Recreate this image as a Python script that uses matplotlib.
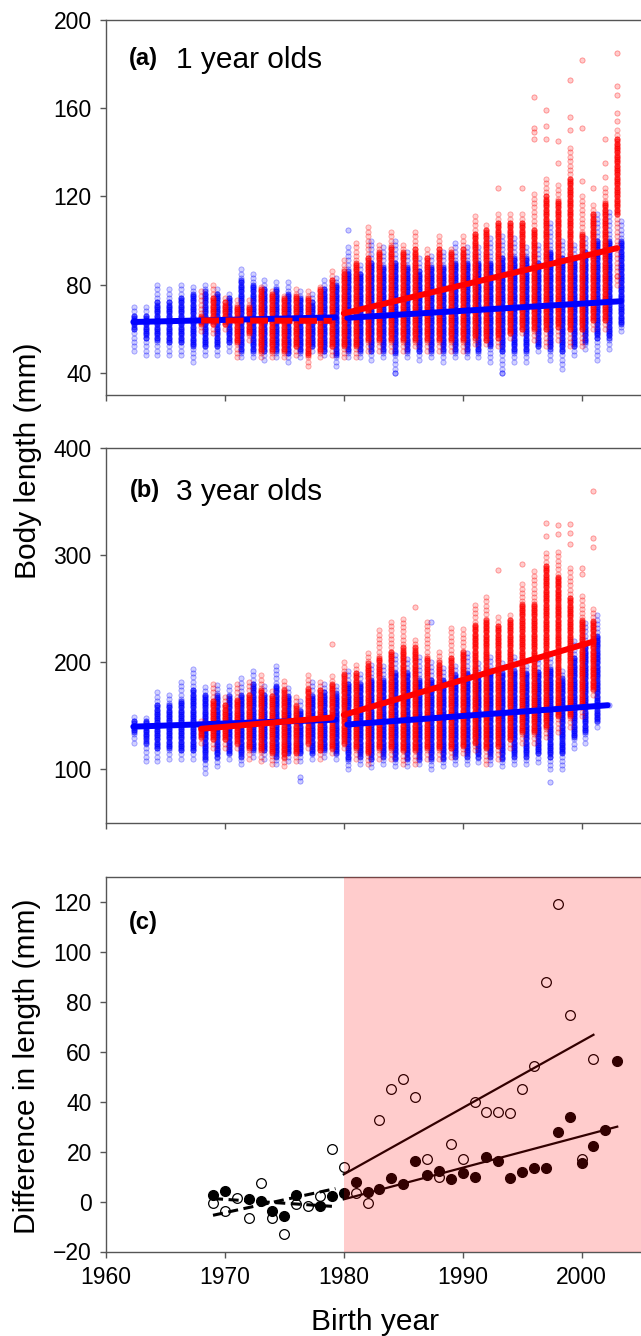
import numpy as np
import matplotlib
matplotlib.use("Agg")
import matplotlib.pyplot as plt

plt.rcParams['font.family'] = ['Liberation Sans', 'DejaVu Sans']

# ---------------- data ----------------
# Panel (a) 1-year-olds: per birth-year column summaries (mm)
a_blue_years = list(range(1962, 2004))
a_blue_lo  = [50,48,48,48,48,45,48,48,50,47,47,46,47,45,47,50,48,43,47,47,46,47,40,47,46,47,45,47,47,47,45,40,45,45,50,46,42,48,51,46,51,59]
a_blue_hi  = [70,71,80,79,80,79,80,79,77,87,85,83,82,81,77,76,83,83,98,90,100,98,100,95,92,94,95,100,98,97,101,102,101,98,98,108,100,99,101,113,113,109]
a_blue_clo = [60,56,55,54,54,52,52,52,54,50,50,50,50,49,50,52,50,48,50,50,50,50,49,50,50,50,50,50,50,50,52,50,50,50,52,51,50,52,54,56,56,62]
a_blue_chi = [66,66,72,72,74,76,77,76,74,82,80,78,78,76,74,72,78,80,86,85,90,88,90,88,86,88,88,90,90,90,90,92,92,92,90,95,92,92,95,100,100,100]
a_blue_out_years = [1980, 1984, 1993]
a_blue_out_vals  = [105, 40, 40]

a_red_years = list(range(1968, 2004))
a_red_lo  = [59,58,60,47,55,47,47,47,48,43,47,48,47,47,50,50,50,50,52,50,50,50,50,53,53,52,56,58,55,52,55,52,52,60,60,80]
a_red_hi  = [77,80,75,74,73,80,78,76,78,77,80,87,92,100,107,99,105,99,104,96,102,97,102,112,108,112,112,112,122,128,125,142,120,116,124,150]
a_red_clo = [62,62,62,54,58,50,50,50,52,48,50,52,52,52,55,55,55,55,55,55,55,55,55,56,55,56,58,60,60,60,61,60,60,64,64,112]
a_red_chi = [66,74,72,70,70,78,76,74,75,74,78,82,86,90,92,95,97,95,96,92,96,95,96,103,105,108,108,108,105,120,118,128,103,112,117,146]
a_red_out_years = [1993,1995,1996,1996,1996,1996,1997,1997,1997,1998,1998,1999,1999,1999,
                   2000,2000,2000,2001,2002,2002,2002,2003,2003,2003,2003,2003,2003]
a_red_out_vals  = [124,124,165,151,149,146,159,152,146,145,135,173,156,150,
                   182,151,127,124,146,135,129,185,170,166,158,154,84]

# Panel (b) 3-year-olds
b_blue_years = list(range(1962, 2002))
b_blue_lo  = [125,108,108,110,110,110,97,103,110,105,112,110,105,108,108,110,112,110,100,105,102,105,103,103,105,100,103,105,105,107,105,103,105,105,107,100,100,120,125,140]
b_blue_hi  = [152,150,175,170,185,195,180,180,180,185,195,180,198,178,165,185,180,180,195,190,198,200,210,205,208,200,195,200,210,200,205,200,205,200,205,210,195,220,240,245]
b_blue_clo = [135,125,120,120,118,118,110,112,115,112,118,118,112,115,115,115,118,115,110,112,110,112,110,110,110,110,110,112,112,112,112,110,112,112,115,112,115,130,135,145]
b_blue_chi = [145,145,160,160,165,175,170,170,170,170,180,170,178,170,155,170,172,172,180,180,185,185,190,190,185,185,185,188,190,188,190,190,192,190,192,195,185,205,215,225]
b_blue_out_years = [1976, 1976, 1987, 1997, 2002]
b_blue_out_vals  = [93, 89, 238, 88, 160]

b_red_years = list(range(1968, 2002))
b_red_lo  = [125,120,120,120,110,108,105,103,108,120,110,115,120,110,105,110,110,105,105,110,110,112,115,118,105,110,120,125,125,130,135,140,150,170]
b_red_hi  = [145,180,170,180,185,188,175,185,170,188,185,190,200,200,210,232,240,242,222,238,210,232,232,255,262,245,245,275,288,305,305,290,265,250]
b_red_clo = [130,128,128,125,120,118,115,112,115,125,118,120,125,120,115,120,120,118,118,120,120,120,122,125,120,122,128,135,135,140,150,150,160,175]
b_red_chi = [140,165,160,165,170,175,170,175,160,175,175,180,190,190,200,205,210,215,215,205,200,205,210,235,240,235,240,255,255,290,280,260,240,240]
b_red_out_years = [1979,1986,1993,1995,1997,1997,1998,1998,1999,1999,1999,2000,2000,2001,2001,2001]
b_red_out_vals  = [217,252,286,292,330,318,328,320,329,321,311,288,283,360,316,308]

# Regression lines (start/end year, start/end value)
a_blue_pre  = ([1962.3, 1979.3], [63.1, 65.2])
a_red_pre   = ([1968.0, 1979.0], [63.8, 63.6])
a_blue_post = ([1980.3, 2003.3], [65.0, 72.5])
a_red_post  = ([1980.0, 2003.0], [67.0, 96.6])
b_blue_pre  = ([1962.3, 1979.3], [140.0, 146.5])
b_red_pre   = ([1968.0, 1979.0], [138.0, 148.5])
b_blue_post = ([1980.3, 2002.2], [142.0, 160.0])
b_red_post  = ([1980.0, 2001.0], [151.0, 219.5])

# Panel (c) difference in length
c_years  = list(range(1969, 2004))
c_filled = [2.7,4.3,np.nan,0.9,0.3,-3.6,-5.6,2.5,np.nan,-1.6,2.1,3.3,7.7,3.7,4.9,9.6,6.9,16.2,10.8,12.3,
            8.9,11.4,9.9,17.8,16.3,9.5,11.9,13.6,13.6,27.9,33.9,15.6,22.4,28.6,56.5]
c_open   = [-0.7,-3.6,1.3,-6.4,7.6,-6.7,-13.0,-1.1,-1.6,2.3,21.1,14.0,3.6,-0.7,32.7,45.0,49.0,42.0,17.0,9.9,
            23.1,17.0,40.0,36.0,36.0,35.4,45.0,54.1,88.0,119.3,74.7,17.0,57.0,np.nan,np.nan]
c_open_pre    = ([1969.0, 1979.3], [-5.5, 5.2])
c_filled_pre  = ([1969.0, 1979.3], [1.2, -2.0])
c_open_post   = ([1980.0, 2001.0], [10.9, 66.8])
c_filled_post = ([1980.0, 2003.0], [0.9, 30.0])

x_ticks = [1960, 1970, 1980, 1990, 2000]
BLUE_OFFSET = 0.33

# ---------------- figure ----------------
W, H = 641, 1336
fig = plt.figure(figsize=(W / 100, H / 100), dpi=100)

def add_ax(left, top, right, bottom):
    return fig.add_axes([left / W, 1 - bottom / H, (right - left) / W, (bottom - top) / H])

axA = add_ax(106, 20, 641, 395)
axB = add_ax(106, 448.3, 641, 823)
axC = add_ax(106, 877, 641, 1251.5)

SPINE = '#555555'
for ax in (axA, axB, axC):
    ax.spines['right'].set_visible(False)
    for s in ('top', 'left', 'bottom'):
        ax.spines[s].set_color(SPINE)
        ax.spines[s].set_linewidth(1.0)
    ax.tick_params(direction='out', length=4.2, width=1.0, color=SPINE,
                   labelsize=16.5, pad=6, right=False, top=False)
    ax.set_xlim(1960, 2005)
    ax.set_xticks(x_ticks)

axA.tick_params(labelbottom=False)
axB.tick_params(labelbottom=False)


def columns(years, lo, hi, step, offset):
    xs, ys = [], []
    for y, l, h in zip(years, lo, hi):
        v = np.arange(l, h + 0.01, step)
        xs.append(np.full(len(v), y + offset))
        ys.append(v)
    return np.concatenate(xs), np.concatenate(ys)


MS = 14


def draw_scatter(ax, years, lo, hi, clo, chi, oy, ov, rgb, offset, step, cstep):
    x, y = columns(years, lo, hi, step, offset)
    ax.scatter(x, y, s=MS, facecolors=[rgb + (0.18,)], edgecolors=[rgb + (0.35,)],
               linewidths=0.6, zorder=2)
    x, y = columns(years, clo, chi, cstep, offset)
    ax.scatter(x, y, s=MS, facecolors=[rgb + (0.5,)], edgecolors=[rgb + (0.6,)],
               linewidths=0.6, zorder=2)
    ax.scatter(np.array(oy) + offset, ov, s=MS, facecolors=[rgb + (0.2,)],
               edgecolors=[rgb + (0.4,)], linewidths=0.6, zorder=2)


BL = (0.0, 0.0, 1.0)
RD = (1.0, 0.0, 0.0)

# Panel a
draw_scatter(axA, a_blue_years, a_blue_lo, a_blue_hi, a_blue_clo, a_blue_chi,
             a_blue_out_years, a_blue_out_vals, BL, BLUE_OFFSET, 2, 1)
draw_scatter(axA, a_red_years, a_red_lo, a_red_hi, a_red_clo, a_red_chi,
             a_red_out_years, a_red_out_vals, RD, 0.0, 2, 1)
LW = 4.3
for xs, ys in (a_blue_pre, a_blue_post):
    axA.plot(xs, ys, color='#0000ff', lw=LW, solid_capstyle='round', zorder=4)
axA.plot(*a_red_pre, color='#ff0000', lw=LW, dashes=(3, 1.1), zorder=5)
axA.plot(*a_red_post, color='#ff0000', lw=LW, solid_capstyle='round', zorder=5)
axA.set_ylim(30, 200)
axA.set_yticks([40, 80, 120, 160, 200])

# Panel b
draw_scatter(axB, b_blue_years, b_blue_lo, b_blue_hi, b_blue_clo, b_blue_chi,
             b_blue_out_years, b_blue_out_vals, BL, BLUE_OFFSET, 4, 2)
draw_scatter(axB, b_red_years, b_red_lo, b_red_hi, b_red_clo, b_red_chi,
             b_red_out_years, b_red_out_vals, RD, 0.0, 4, 2)
for xs, ys in (b_blue_pre, b_blue_post):
    axB.plot(xs, ys, color='#0000ff', lw=LW, solid_capstyle='round', zorder=4)
for xs, ys in (b_red_pre, b_red_post):
    axB.plot(xs, ys, color='#ff0000', lw=LW, solid_capstyle='round', zorder=5)
axB.set_ylim(50, 400)
axB.set_yticks([100, 200, 300, 400])

# Panel c
axC.plot(c_years, c_filled, 'o', color='black', ms=7.0, zorder=3)
axC.plot(c_years, c_open, 'o', mfc='none', mec='black', mew=0.9, ms=7.0, zorder=3)
axC.plot(*c_open_pre, color='black', lw=2.2, dashes=(3.3, 1.8), zorder=4)
axC.plot(*c_filled_pre, color='black', lw=2.2, dashes=(3.3, 1.8), zorder=4)
axC.plot(*c_open_post, color='black', lw=1.6, zorder=4)
axC.plot(*c_filled_post, color='black', lw=1.6, zorder=4)
axC.axvspan(1980, 2005, color=(1.0, 0.0, 0.0), alpha=0.2, lw=0, zorder=6)
axC.set_ylim(-20, 130)
axC.set_yticks([-20, 0, 20, 40, 60, 80, 100, 120])

# ---------------- text ----------------
def ftext(px, py, s, **kw):
    fig.text(px / W, 1 - py / H, s, **kw)

ftext(128.5, 58, '(a)', fontsize=17, fontweight='bold', ha='left', va='center')
ftext(175.5, 60, '1 year olds', fontsize=21.5, ha='left', va='center')
ftext(129.5, 490, '(b)', fontsize=17, fontweight='bold', ha='left', va='center')
ftext(176, 492, '3 year olds', fontsize=21.5, ha='left', va='center')
ftext(129, 923, '(c)', fontsize=17, fontweight='bold', ha='left', va='center')

ftext(28.5, 461, 'Body length (mm)', fontsize=21.5, rotation=90, ha='center', va='center')
ftext(27.5, 1066, 'Difference in length (mm)', fontsize=21.5, rotation=90, ha='center', va='center')
ftext(375, 1322, 'Birth year', fontsize=21.5, ha='center', va='center')

fig.savefig('out.png', dpi=100)
